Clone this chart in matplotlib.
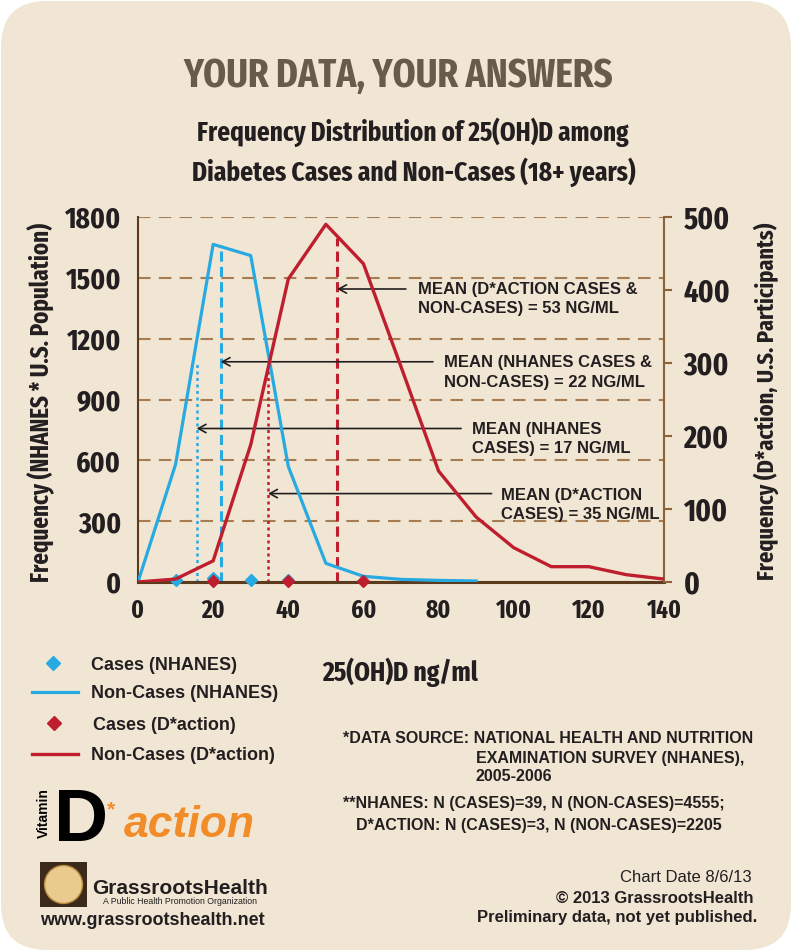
"""
Frequency distribution of 25(OH)D among diabetes cases and non-cases,
NHANES vs D*action (GrassrootsHealth chart, 8/6/13).
"""

import matplotlib
matplotlib.use("Agg")
import matplotlib.pyplot as plt
from matplotlib import font_manager
from matplotlib.font_manager import FontProperties
from matplotlib.patches import FancyBboxPatch, Rectangle, Circle

# ---- data ----
nhanes_bins = [0, 10, 20, 30, 40, 50, 60, 70, 80, 90]
nhanes_noncases = [0, 580, 1665, 1610, 570, 92, 28, 13, 8, 5]
nhanes_case_bins = [10, 20, 30, 40]
nhanes_cases = [10, 18, 10, 10]

daction_bins = [0, 10, 20, 30, 40, 50, 60, 70, 80, 90, 100, 110, 120, 130, 140]
daction_noncases = [0, 4, 29, 188, 415, 490, 436, 295, 152, 89, 47, 21, 21, 10, 4]
daction_case_bins = [20, 40, 60]
daction_cases = [1, 1, 1]

# mean markers (x position, top of line in left-axis units)
mean_x = [53, 22, 15.6, 34.6]
mean_top = [1695, 1660, 1090, 1070]
mean_labels = [
    ("MEAN (D*ACTION CASES &", "NON-CASES) = 53 NG/ML"),
    ("MEAN (NHANES CASES &", "NON-CASES) = 22 NG/ML"),
    ("MEAN (NHANES", "CASES) = 17 NG/ML"),
    ("MEAN (D*ACTION", "CASES) = 35 NG/ML"),
]
arrow_y = [1445, 1086, 757, 436]
arrow_tail = [71.3, 78.5, 86.0, 94.1]

left_ticks = [0, 300, 600, 900, 1200, 1500, 1800]
right_ticks = [0, 100, 200, 300, 400, 500]
x_ticks = [0, 20, 40, 60, 80, 100, 120, 140]

legend_labels = ["Cases (NHANES)", "Non-Cases (NHANES)", "Cases (D*action)", "Non-Cases (D*action)"]

# ---- styling ----
CARD = "#F1E6D4"
BLUE = "#27AAE1"
RED = "#BE1E2D"
GRID = "#A67C52"
INK = "#231F20"
TITLE = "#675B4A"
SANS = "Liberation Sans"


# pick the narrowest bold face that is installed for the poster-style headings
def pick_condensed():
    rank = {"ultra-condensed": 0, "extra-condensed": 1, "condensed": 2, "semi-condensed": 3}
    best = None
    for f in font_manager.fontManager.ttflist:
        st = str(f.stretch).lower()
        nm = f.name.lower()
        if st not in rank and "condensed" not in nm and "narrow" not in nm:
            continue
        if "italic" in str(f.style).lower() or "oblique" in str(f.style).lower():
            continue
        w = f.weight if isinstance(f.weight, int) else font_manager.weight_dict.get(str(f.weight), 400)
        r = rank.get(st, 2)
        if "extracondensed" in nm.replace(" ", "") or "extra" in nm:
            r = min(r, 1)
        score = (r, abs(w - 700))
        if best is None or score < best[0]:
            best = (score, f.fname)
    if best is None:
        return FontProperties(family="DejaVu Sans", weight="bold")
    return FontProperties(fname=best[1])


COND = pick_condensed()

fig = plt.figure(figsize=(7.92, 9.51), dpi=100)
fig.patch.set_facecolor("white")

# background card, pixel coordinates
bg = fig.add_axes([0, 0, 1, 1], zorder=0)
bg.set_xlim(0, 792)
bg.set_ylim(951, 0)
bg.axis("off")
bg.add_patch(FancyBboxPatch((1, 1), 790, 949, boxstyle="round,pad=0,rounding_size=46",
                            fc=CARD, ec="none"))

fitted = []  # (text, target length in px, measure along)

t = bg.text(398, 87, "YOUR DATA, YOUR ANSWERS", ha="center", va="baseline",
            fontproperties=COND, fontsize=30, color=TITLE)
fitted.append((t, 429, "w"))
t = bg.text(413, 141, "Frequency Distribution of 25(OH)D among", ha="center",
            va="baseline", fontproperties=COND, fontsize=18, color=INK)
fitted.append((t, 430, "w"))
t = bg.text(414, 181, "Diabetes Cases and Non-Cases (18+ years)", ha="center",
            va="baseline", fontproperties=COND, fontsize=18, color=INK)
fitted.append((t, 443, "w"))

t = bg.text(41, 402, "Frequency (NHANES * U.S. Population)", rotation=90, ha="center",
            va="center", fontproperties=COND, fontsize=16, color=INK)
fitted.append((t, 360, "h"))
t = bg.text(766, 401, "Frequency (D*action, U.S. Participants)", rotation=90, ha="center",
            va="center", fontproperties=COND, fontsize=16, color=INK)
fitted.append((t, 358, "h"))
t = bg.text(400, 681, "25(OH)D ng/ml", ha="center", va="baseline", fontproperties=COND,
            fontsize=20, color=INK)
fitted.append((t, 156, "w"))

renderer = fig.canvas.get_renderer()
for t, target, along in fitted:
    bb = t.get_window_extent(renderer)
    cur = bb.width if along == "w" else bb.height
    t.set_fontsize(t.get_fontsize() * target / cur)


def fit_size(s, target):
    probe = bg.text(0, 0, s, fontproperties=COND, fontsize=20)
    w = probe.get_window_extent(renderer).width
    probe.remove()
    return 20 * target / w


# tick numbers are set a little larger than a pure width fit, to keep their weight
left_size = fit_size("1800", 46) * 1.22
right_size = fit_size("500", 38) * 1.22
x_size = fit_size("140", 29) * 1.2

# ---- main axes ----
ax = fig.add_axes([138 / 792, 1 - 582 / 951, (664 - 138) / 792, (582 - 217) / 951], zorder=1)
ax.patch.set_visible(False)
ax.set_xlim(0, 140)
ax.set_ylim(0, 1800)
ax.set_yticks(left_ticks)
ax.set_xticks(x_ticks)
ax.grid(axis="y", color=GRID, lw=1.5, ls=(0, (6, 4)))
ax.set_axisbelow(True)
for s in ["top", "right"]:
    ax.spines[s].set_visible(False)
ax.spines["left"].set_color("#5C3A1E")
ax.spines["left"].set_linewidth(1.5)
ax.spines["bottom"].set_color("#5C3A1E")
ax.spines["bottom"].set_linewidth(2.2)
ax.tick_params(axis="y", length=0, pad=12)
ax.tick_params(axis="x", length=0, pad=12)
for lab in ax.get_yticklabels():
    lab.set_fontproperties(COND)
    lab.set(fontsize=left_size, color=INK)
for lab in ax.get_xticklabels():
    lab.set_fontproperties(COND)
    lab.set(fontsize=x_size, color=INK)

ax2 = ax.twinx()
ax2.patch.set_visible(False)
ax2.set_ylim(0, 500)
ax2.set_yticks(right_ticks)
for s in ["top", "left", "bottom"]:
    ax2.spines[s].set_visible(False)
ax2.spines["right"].set_color("#8C6239")
ax2.spines["right"].set_linewidth(1.5)
ax2.tick_params(axis="y", length=6, width=1.5, color="#8C6239", direction="out", pad=8)
for lab in ax2.get_yticklabels():
    lab.set_fontproperties(COND)
    lab.set(fontsize=right_size, color=INK)

# mean lines
mean_styles = [(RED, (0, (3.3, 1.7)), 2.2), (BLUE, (0, (3.3, 1.7)), 2.2),
               (BLUE, (0, (1.2, 1.4)), 1.8), (RED, (0, (1.2, 1.4)), 1.8)]
for mx, top, (c, ls, lw) in zip(mean_x, mean_top, mean_styles):
    ax.plot([mx, mx], [0, top], color=c, ls=ls, lw=lw, zorder=2)

# arrows
for mx, ay, tail in zip(mean_x, arrow_y, arrow_tail):
    ax.annotate("", xy=(mx, ay), xytext=(tail, ay),
                arrowprops=dict(arrowstyle="->,head_length=0.55,head_width=0.3",
                                color=INK, lw=1.2, shrinkA=0, shrinkB=0), zorder=3)

# NHANES (left axis)
ax.plot(nhanes_bins, nhanes_noncases, color=BLUE, lw=2.3, zorder=4)
ax.plot(nhanes_case_bins, nhanes_cases, ls="none", marker="D", ms=6.5, color=BLUE,
        clip_on=False, zorder=5)

# D*action (right axis)
ax2.plot(daction_bins, daction_noncases, color=RED, lw=2.4, zorder=4)
ax2.plot(daction_case_bins, daction_cases, ls="none", marker="D", ms=6.5, color=RED,
         clip_on=False, zorder=5)

# mean annotation text (pixel positions)
text_x = [418, 444, 472, 501]
text_y = [288, 361, 428, 494]
for tx, ty, (l1, l2) in zip(text_x, text_y, mean_labels):
    ax2.text(tx, ty + 6, l1, transform=bg.transData, ha="left", va="baseline",
             family=SANS, weight="bold", fontsize=12, color=INK)
    ax2.text(tx, ty + 25.5, l2, transform=bg.transData, ha="left", va="baseline",
             family=SANS, weight="bold", fontsize=12, color=INK)

# ---- legend ----
leg_y = [663, 692, 723, 754]
bg.plot([53], [leg_y[0]], ls="none", marker="D", ms=7.5, color=BLUE)
bg.plot([32, 78], [leg_y[1], leg_y[1]], color=BLUE, lw=2.3)
bg.plot([54], [leg_y[2]], ls="none", marker="D", ms=7.5, color=RED)
bg.plot([32, 78], [leg_y[3], leg_y[3]], color=RED, lw=2.4)
for lx, ly, lab in zip([91, 91, 93, 91], leg_y, legend_labels):
    bg.text(lx, ly + 6.5, lab, ha="left", va="baseline", family=SANS, weight="bold",
            fontsize=13, color=INK)

# ---- footnotes ----
foot = dict(ha="left", va="baseline", family=SANS, weight="bold", fontsize=11.5, color=INK)
bg.text(343, 743, "*DATA SOURCE: NATIONAL HEALTH AND NUTRITION", **foot)
bg.text(476, 763, "EXAMINATION SURVEY (NHANES),", **foot)
bg.text(476, 781, "2005-2006", **foot)
bg.text(343, 808, "**NHANES: N (CASES)=39, N (NON-CASES)=4555;", **foot)
bg.text(356, 830, "D*ACTION: N (CASES)=3, N (NON-CASES)=2205", **foot)

bg.text(752, 882, "Chart Date 8/6/13", ha="right", va="baseline", family=SANS,
        fontsize=12, color=INK)
bg.text(754, 903, "\u00a9 2013 GrassrootsHealth", ha="right", va="baseline", family=SANS,
        weight="bold", fontsize=12, color=INK)
bg.text(757, 922, "Preliminary data, not yet published.", ha="right", va="baseline",
        family=SANS, weight="bold", fontsize=12, color=INK)

# ---- logos ----
bg.text(44, 813, "Vitamin", rotation=90, ha="center", va="center", family=SANS,
        weight="bold", fontsize=10, color="black")
bg.text(54, 841, "D", ha="left", va="baseline", family=SANS, weight="bold",
        fontsize=54, color="black")
bg.text(107, 815, "*", ha="left", va="baseline", family=SANS, weight="bold",
        fontsize=15, color="#F28C28")
bg.text(124, 837, "action", ha="left", va="baseline", family=SANS, weight="bold",
        style="italic", fontsize=32, color="#F28C28")

bg.add_patch(Rectangle((40, 862), 47, 45, fc="#3B2A1A", ec="none"))
bg.add_patch(Circle((63.5, 884.5), 19, fc="#E9CB8E", ec="#B8893F", lw=1))
bg.text(92, 894, "GrassrootsHealth", ha="left", va="baseline", family=SANS,
        weight="bold", fontsize=15, color=INK)
bg.text(103, 903.5, "A Public Health Promotion Organization", ha="left", va="baseline",
        family=SANS, fontsize=6.3, color=INK)
bg.text(40, 925, "www.grassrootshealth.net", ha="left", va="baseline", family=SANS,
        weight="bold", fontsize=13, color=INK)

fig.savefig("out.png", dpi=100)
